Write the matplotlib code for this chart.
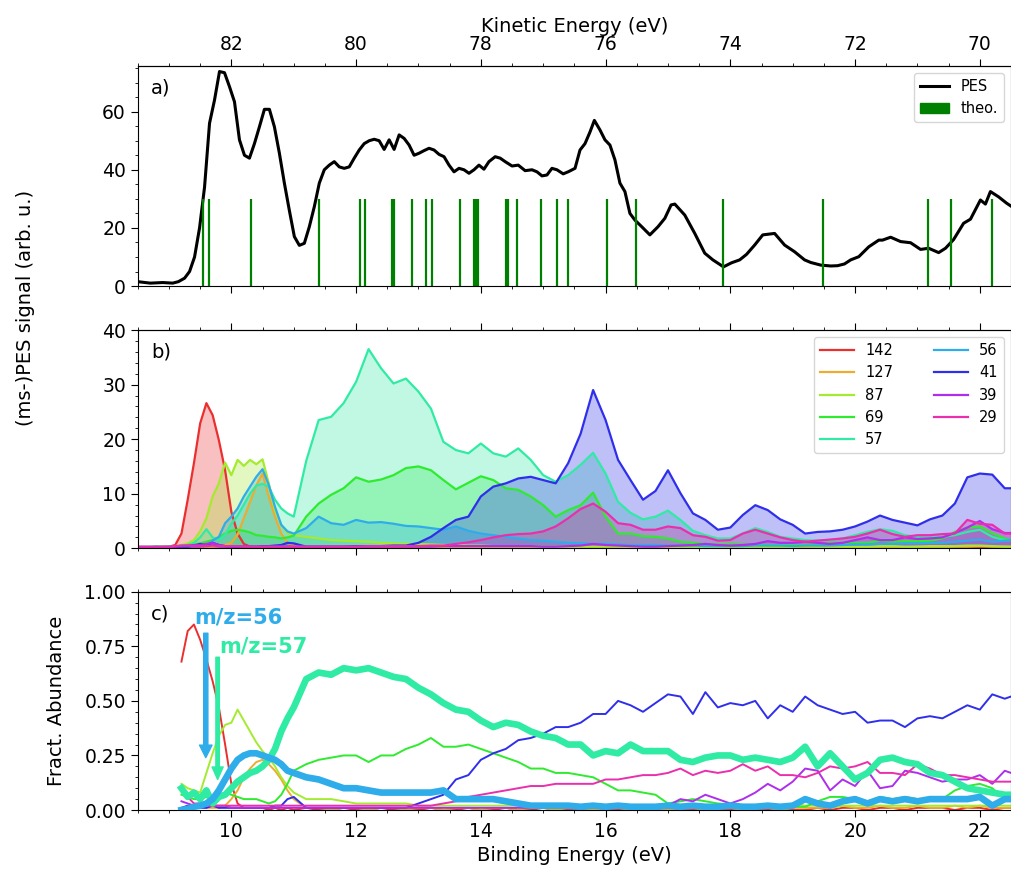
import numpy as np
import matplotlib.pyplot as plt
from matplotlib.ticker import MultipleLocator, FixedLocator
from matplotlib.lines import Line2D
from matplotlib.patches import Patch

hv = 92.0  # photon energy, KE = hv - BE

# ---- panel a: total PES + theoretical lines
pes_be = [8.5, 8.7, 8.9, 9.06, 9.15, 9.25, 9.33, 9.41, 9.49, 9.57,
          9.65, 9.73, 9.81, 9.89, 9.97, 10.05, 10.13, 10.21, 10.29, 10.37,
          10.45, 10.53, 10.61, 10.69, 10.77, 10.85, 10.93, 11.01, 11.09, 11.17,
          11.25, 11.33, 11.41, 11.49, 11.57, 11.65, 11.73, 11.81, 11.89, 11.97,
          12.05, 12.13, 12.21, 12.29, 12.37, 12.45, 12.53, 12.61, 12.69, 12.77,
          12.85, 12.93, 13.01, 13.09, 13.17, 13.25, 13.33, 13.41, 13.49, 13.57,
          13.65, 13.73, 13.81, 13.89, 13.97, 14.05, 14.13, 14.23, 14.31, 14.39,
          14.50, 14.60, 14.71, 14.82, 14.90, 14.98, 15.06, 15.14, 15.22, 15.32,
          15.40, 15.51, 15.59, 15.67, 15.75, 15.82, 15.91, 15.99, 16.07, 16.15,
          16.23, 16.31, 16.39, 16.47, 16.58, 16.71, 16.84, 16.95, 17.05, 17.11,
          17.27, 17.43, 17.59, 17.72, 17.89, 18.02, 18.15, 18.26, 18.39, 18.52,
          18.71, 18.87, 19.03, 19.19, 19.29, 19.45, 19.61, 19.72, 19.83, 19.93,
          20.06, 20.22, 20.38, 20.44, 20.57, 20.73, 20.89, 21.05, 21.18, 21.34,
          21.45, 21.58, 21.74, 21.85, 22.01, 22.09, 22.17, 22.30, 22.43, 22.5]
pes_signal = [1.5, 1.0, 1.2, 1.0, 1.5, 2.7, 5.0, 10.0, 20.0, 34.0,
              56.0, 64.0, 73.8, 73.4, 68.6, 63.4, 50.3, 45.0, 44.0, 49.0,
              54.8, 60.8, 60.8, 54.8, 45.7, 35.4, 26.0, 17.0, 14.0, 14.7,
              20.4, 27.3, 35.4, 40.0, 41.6, 42.8, 41.0, 40.5, 41.0, 44.0,
              46.8, 49.0, 50.0, 50.5, 50.0, 47.0, 50.3, 47.0, 52.0, 50.8,
              48.5, 45.0, 45.7, 46.6, 47.4, 46.8, 45.3, 44.5, 41.6, 39.3,
              40.5, 40.0, 38.8, 40.0, 41.6, 40.2, 42.8, 44.5, 44.0, 42.8,
              41.3, 41.6, 39.7, 40.0, 39.3, 37.9, 38.2, 40.5, 40.0, 38.6,
              39.3, 40.5, 46.8, 49.0, 53.0, 57.0, 53.7, 50.3, 48.5, 43.4,
              35.4, 32.5, 25.0, 22.7, 20.4, 17.6, 20.4, 23.3, 27.9, 28.2,
              24.4, 18.1, 11.3, 9.0, 6.6, 8.0, 9.0, 10.9, 14.1, 17.6,
              18.1, 14.1, 11.8, 9.0, 8.1, 7.2, 6.9, 7.0, 7.6, 9.0,
              10.1, 13.5, 15.8, 15.8, 16.8, 15.3, 14.9, 12.6, 13.0, 11.5,
              13.0, 16.0, 21.6, 23.0, 29.6, 28.2, 32.5, 30.7, 28.5, 27.5]
theo_be = [9.54, 9.64, 10.31, 11.41, 12.07, 12.14, 12.57, 12.61, 12.89, 13.12,
           13.21, 13.67, 13.89, 13.92, 13.95, 14.40, 14.43, 14.58, 14.97, 15.22,
           15.40, 16.03, 16.49, 17.88, 19.49, 21.17, 21.54, 22.19]
theo_height = 30

# ---- panels b, c: mass-selected PES on a common energy grid
be = np.round(np.r_[np.arange(8.5, 10.95, 0.1), np.arange(11.0, 22.45, 0.2), 22.5], 2)
be_c = be[7:]  # fractional abundance starts at 9.2 eV

masses = ['142', '127', '87', '69', '57', '56', '41', '39', '29']
colors = ['#eb2f2f', '#ebac2f', '#a4eb2f', '#2feb2f', '#2feba4',
          '#2facea', '#2f2feb', '#ad2feb', '#eb2fac']

b142 = [0.2, 0.2, 0.2, 0.2, 0.3, 0.3, 0.6, 2.7, 8.9, 15.6, 22.9, 26.6, 24.4, 19.8, 14.3, 6.7, 2.7, 0.8, 0.3, 0.2, 0.2, 0.2, 0.2, 0.2, 0.2,
        0.2, 0.1, 0.2, 0.1, 0.1, 0.2, 0.1, 0.1, 0.2, 0.1, 0.1, 0.1, 0.2, 0.1, 0.1, 0.2, 0.1, 0.1, 0.1, 0.2, 0.1, 0.1, 0.1, 0.2, 0.1, 0.1, 0.1, 0.1, 0.1,
        0.1, 0.1, 0.1, 0.1, 0.1, 0.1, 0.1, 0.1, 0.1, 0.1, 0.1, 0.1, 0.1, 0.1, 0.1, 0.1, 0.2, 0.1, 0.1, 0.2, 0.1, 0.2, 0.2, 0.1, 0.2, 0.2, 0.3, 0.2, 0.2, 0.2]
b127 = [0.1, 0.1, 0.1, 0.1, 0.1, 0.2, 0.2, 0.3, 0.4, 0.6, 0.4, 0.3, 0.3, 0.4, 0.6, 1.0, 2.5, 5.5, 8.5, 11.5, 13.7, 9.5, 5.8, 2.7, 1.0,
        0.5, 0.2, 0.2, 0.1, 0.2, 0.1, 0.1, 0.2, 0.1, 0.1, 0.1, 0.2, 0.1, 0.1, 0.1, 0.1, 0.2, 0.1, 0.1, 0.1, 0.1, 0.1, 0.2, 0.1, 0.1, 0.1, 0.1, 0.1, 0.1,
        0.1, 0.1, 0.1, 0.1, 0.1, 0.1, 0.1, 0.1, 0.1, 0.1, 0.1, 0.1, 0.1, 0.1, 0.1, 0.2, 0.2, 0.2, 0.2, 0.2, 0.2, 0.3, 0.2, 0.2, 0.3, 0.3, 0.4, 0.3, 0.3, 0.3]
b87 = [0.2, 0.2, 0.2, 0.2, 0.3, 0.3, 0.4, 0.6, 0.9, 1.5, 3.1, 5.5, 9.5, 11.9, 15.7, 13.4, 16.2, 15.1, 16.2, 15.4, 16.3, 11.9, 7.0, 4.3, 2.7,
       2.4, 2.1, 1.8, 1.5, 1.4, 1.3, 1.2, 1.0, 0.9, 0.8, 0.8, 0.7, 0.6, 0.6, 0.5, 0.5, 0.4, 0.4, 0.4, 0.4, 0.3, 0.3, 0.3, 0.3, 0.3, 0.3, 0.3, 0.3, 0.3,
       0.3, 0.3, 0.2, 0.2, 0.2, 0.2, 0.2, 0.2, 0.3, 0.3, 0.3, 0.3, 0.4, 0.3, 0.3, 0.3, 0.3, 0.3, 0.4, 0.4, 0.3, 0.3, 0.4, 0.4, 0.4, 0.5, 0.5, 0.4, 0.3, 0.3]
b69 = [0.2, 0.2, 0.2, 0.2, 0.2, 0.3, 0.3, 0.5, 0.6, 0.7, 0.9, 1.2, 1.5, 2.0, 2.7, 3.2, 3.4, 3.2, 2.9, 2.4, 2.3, 2.1, 2.0, 1.8, 2.0,
       2.3, 5.8, 8.2, 9.8, 11.0, 13.0, 12.2, 12.6, 13.4, 14.7, 15.0, 14.3, 12.5, 10.8, 12.0, 13.2, 12.5, 11.0, 10.7, 9.5, 7.9, 5.8, 7.0, 7.9, 10.2, 5.8, 2.7, 2.7, 2.2,
       2.1, 1.8, 1.2, 1.0, 0.8, 0.7, 0.8, 0.7, 0.7, 0.6, 0.6, 0.6, 0.6, 0.8, 1.0, 1.0, 1.0, 1.0, 1.4, 1.2, 1.3, 1.3, 1.4, 1.8, 3.0, 3.8, 4.0, 2.8, 1.8, 1.5]
b57 = [0.3, 0.3, 0.3, 0.4, 0.3, 0.3, 0.3, 0.5, 0.6, 1.0, 2.0, 3.5, 2.0, 1.5, 2.5, 4.5, 6.0, 8.0, 10.0, 11.5, 11.8, 11.3, 8.9, 7.3, 6.4,
       5.8, 16.0, 23.5, 24.1, 26.6, 30.5, 36.5, 33.0, 30.2, 31.1, 28.7, 25.6, 19.5, 18.0, 17.4, 19.2, 17.4, 16.8, 18.3, 16.2, 13.4, 12.2, 13.4, 15.3, 17.5, 13.7, 8.5, 6.5, 5.3,
       5.8, 6.9, 5.2, 3.2, 2.4, 1.8, 1.8, 2.7, 3.7, 3.0, 2.1, 1.8, 1.5, 1.4, 1.5, 1.8, 2.4, 3.0, 3.5, 3.2, 2.4, 2.1, 2.3, 2.1, 2.4, 3.0, 3.4, 2.1, 1.5, 1.5]
b56 = [0.2, 0.2, 0.2, 0.2, 0.2, 0.3, 0.3, 0.3, 0.4, 0.4, 0.5, 0.5, 1.4, 2.1, 4.6, 5.8, 7.3, 9.5, 11.3, 13.1, 14.5, 11.6, 7.6, 4.3, 3.1,
       2.7, 3.7, 5.8, 4.6, 4.3, 5.2, 4.7, 4.8, 4.5, 4.1, 4.0, 3.7, 3.4, 4.0, 3.2, 2.7, 2.4, 2.1, 1.8, 1.5, 1.4, 1.2, 1.0, 0.9, 0.8, 0.8, 0.7, 0.6, 0.6,
       0.6, 0.5, 0.5, 0.5, 0.4, 0.4, 0.4, 0.4, 0.5, 0.5, 0.5, 0.4, 0.5, 0.5, 0.5, 0.6, 0.7, 0.7, 0.8, 0.8, 0.9, 0.9, 1.0, 1.0, 1.2, 1.4, 1.6, 1.2, 1.4, 1.5]
b41 = [0.1, 0.1, 0.1, 0.1, 0.1, 0.2, 0.2, 0.3, 0.3, 0.5, 0.8, 0.6, 1.0, 0.6, 0.4, 0.3, 0.3, 0.3, 0.3, 0.3, 0.4, 0.4, 0.5, 0.6, 1.0,
       0.9, 0.3, 0.3, 0.3, 0.3, 0.4, 0.4, 0.4, 0.5, 0.5, 1.0, 2.1, 3.7, 5.2, 5.8, 9.5, 11.3, 11.9, 12.8, 13.1, 12.5, 11.9, 15.6, 21.0, 29.0, 23.5, 16.2, 12.5, 8.9,
       10.5, 14.3, 10.1, 6.4, 5.2, 3.4, 3.8, 6.1, 7.9, 7.0, 5.3, 4.3, 2.7, 3.0, 3.1, 3.4, 4.0, 4.9, 6.0, 5.2, 4.7, 4.2, 5.3, 6.0, 8.2, 13.0, 13.7, 13.5, 11.0, 11.0]
b39 = [0.2, 0.2, 0.2, 0.2, 0.2, 0.2, 0.3, 0.4, 0.5, 0.6, 0.6, 0.8, 1.0, 0.6, 0.4, 0.3, 0.3, 0.3, 0.3, 0.3, 0.3, 0.3, 0.3, 0.3, 0.3,
       0.3, 0.3, 0.3, 0.3, 0.3, 0.3, 0.3, 0.3, 0.3, 0.3, 0.3, 0.3, 0.4, 0.4, 0.4, 0.4, 0.4, 0.4, 0.4, 0.4, 0.3, 0.3, 0.4, 0.5, 0.8, 0.6, 0.5, 0.4, 0.3,
       0.3, 0.4, 0.5, 0.6, 0.8, 0.6, 0.5, 0.6, 0.8, 1.3, 1.0, 1.0, 1.2, 1.0, 0.8, 1.0, 1.5, 2.0, 1.5, 1.5, 2.0, 1.7, 1.8, 2.0, 2.8, 3.8, 5.0, 3.5, 2.8, 2.8]
b29 = [0.3, 0.3, 0.3, 0.3, 0.3, 0.3, 0.4, 0.5, 0.5, 0.4, 0.4, 0.4, 0.5, 0.4, 0.4, 0.4, 0.4, 0.3, 0.3, 0.3, 0.3, 0.3, 0.3, 0.3, 0.3,
       0.3, 0.3, 0.3, 0.3, 0.3, 0.3, 0.4, 0.4, 0.4, 0.4, 0.4, 0.5, 0.5, 0.8, 1.1, 1.5, 2.0, 2.4, 2.6, 2.7, 3.1, 4.0, 5.5, 7.2, 8.2, 6.7, 4.6, 4.3, 3.4,
       3.4, 4.0, 3.7, 2.4, 2.1, 1.4, 1.5, 2.7, 3.4, 2.7, 2.0, 1.5, 1.2, 1.4, 1.6, 1.8, 2.1, 2.7, 3.4, 2.6, 2.1, 2.4, 2.4, 2.6, 2.7, 5.2, 4.5, 4.3, 2.7, 2.7]

c142 = [0.68, 0.82, 0.85, 0.78, 0.69, 0.59, 0.47, 0.30, 0.12, 0.03, 0.01, 0.01, 0.01, 0.01, 0.00, 0.01, 0.00, 0.01,
        0.00, 0.01, 0.00, 0.00, 0.01, 0.00, 0.00, 0.01, 0.00, 0.00, 0.00, 0.01, 0.00, 0.00, 0.01, 0.00, 0.00, 0.01, 0.00, 0.00, 0.01, 0.00, 0.00, 0.00, 0.01, 0.00, 0.00, 0.01, 0.00,
        0.00, 0.01, 0.00, 0.00, 0.01, 0.00, 0.00, 0.01, 0.00, 0.00, 0.01, 0.00, 0.00, 0.01, 0.00, 0.01, 0.01, 0.00, 0.01, 0.01, 0.00, 0.01, 0.01, 0.01, 0.00, 0.01, 0.01, 0.00, 0.01, 0.01]
c127 = [0.01, 0.01, 0.01, 0.02, 0.01, 0.01, 0.01, 0.02, 0.05, 0.09, 0.15, 0.19, 0.22, 0.23, 0.21, 0.18, 0.14, 0.09,
        0.05, 0.01, 0.01, 0.00, 0.01, 0.01, 0.00, 0.01, 0.01, 0.00, 0.01, 0.01, 0.00, 0.01, 0.01, 0.00, 0.01, 0.01, 0.00, 0.01, 0.01, 0.00, 0.01, 0.01, 0.00, 0.01, 0.01, 0.00, 0.01,
        0.01, 0.00, 0.01, 0.01, 0.00, 0.01, 0.01, 0.00, 0.01, 0.01, 0.00, 0.01, 0.01, 0.01, 0.01, 0.02, 0.01, 0.01, 0.02, 0.01, 0.01, 0.02, 0.01, 0.01, 0.02, 0.01, 0.02, 0.01, 0.01, 0.01]
c87 = [0.12, 0.10, 0.09, 0.08, 0.17, 0.26, 0.34, 0.39, 0.40, 0.46, 0.41, 0.36, 0.31, 0.27, 0.24, 0.20, 0.15, 0.11,
       0.08, 0.05, 0.05, 0.05, 0.04, 0.03, 0.03, 0.03, 0.03, 0.03, 0.02, 0.02, 0.02, 0.02, 0.02, 0.02, 0.02, 0.02, 0.02, 0.02, 0.02, 0.02, 0.02, 0.02, 0.02, 0.02, 0.02, 0.02, 0.02,
       0.02, 0.02, 0.01, 0.01, 0.01, 0.01, 0.01, 0.01, 0.01, 0.01, 0.02, 0.03, 0.02, 0.02, 0.01, 0.02, 0.02, 0.02, 0.02, 0.02, 0.02, 0.02, 0.02, 0.02, 0.02, 0.02, 0.02, 0.02, 0.02, 0.02]
c69 = [0.07, 0.06, 0.05, 0.05, 0.06, 0.06, 0.07, 0.08, 0.07, 0.06, 0.05, 0.05, 0.05, 0.04, 0.03, 0.04, 0.07, 0.12,
       0.18, 0.21, 0.23, 0.24, 0.25, 0.25, 0.22, 0.25, 0.25, 0.28, 0.30, 0.33, 0.29, 0.29, 0.30, 0.28, 0.26, 0.24, 0.22, 0.19, 0.19, 0.17, 0.17, 0.16, 0.15, 0.12, 0.09, 0.09, 0.08,
       0.07, 0.03, 0.04, 0.05, 0.04, 0.03, 0.025, 0.02, 0.02, 0.02, 0.02, 0.015, 0.015, 0.04, 0.06, 0.06, 0.05, 0.04, 0.06, 0.05, 0.06, 0.05, 0.05, 0.05, 0.09, 0.11, 0.12, 0.10, 0.05, 0.04]
c57 = [0.10, 0.06, 0.08, 0.05, 0.09, 0.03, 0.06, 0.07, 0.10, 0.13, 0.15, 0.17, 0.18, 0.20, 0.23, 0.28, 0.36, 0.42,
       0.47, 0.60, 0.63, 0.62, 0.65, 0.64, 0.65, 0.63, 0.61, 0.60, 0.56, 0.53, 0.49, 0.46, 0.45, 0.41, 0.38, 0.40, 0.39, 0.36, 0.34, 0.33, 0.30, 0.30, 0.25, 0.27, 0.26, 0.30, 0.27,
       0.27, 0.27, 0.23, 0.22, 0.24, 0.25, 0.25, 0.23, 0.24, 0.23, 0.22, 0.24, 0.29, 0.20, 0.26, 0.20, 0.14, 0.17, 0.23, 0.24, 0.22, 0.21, 0.17, 0.16, 0.13, 0.10, 0.09, 0.08, 0.07, 0.07]
c56 = [0.00, 0.005, 0.015, 0.02, 0.03, 0.05, 0.09, 0.14, 0.19, 0.23, 0.25, 0.26, 0.26, 0.25, 0.24, 0.23, 0.21, 0.18,
       0.17, 0.15, 0.14, 0.12, 0.10, 0.10, 0.09, 0.08, 0.08, 0.08, 0.08, 0.08, 0.09, 0.05, 0.05, 0.05, 0.05, 0.04, 0.03, 0.02, 0.02, 0.02, 0.02, 0.015, 0.02, 0.015, 0.02, 0.015, 0.015,
       0.015, 0.02, 0.015, 0.02, 0.015, 0.015, 0.02, 0.015, 0.015, 0.02, 0.015, 0.02, 0.05, 0.03, 0.02, 0.04, 0.05, 0.03, 0.05, 0.04, 0.05, 0.04, 0.05, 0.05, 0.05, 0.05, 0.06, 0.02, 0.05, 0.05]
c41 = [0.01, 0.02, 0.01, 0.01, 0.01, 0.02, 0.01, 0.01, 0.01, 0.01, 0.01, 0.01, 0.01, 0.01, 0.01, 0.02, 0.02, 0.05,
       0.06, 0.01, 0.01, 0.01, 0.01, 0.01, 0.01, 0.01, 0.01, 0.01, 0.03, 0.05, 0.07, 0.14, 0.16, 0.23, 0.26, 0.28, 0.32, 0.33, 0.35, 0.38, 0.38, 0.40, 0.44, 0.44, 0.50, 0.48, 0.45,
       0.49, 0.53, 0.52, 0.44, 0.54, 0.47, 0.49, 0.48, 0.50, 0.42, 0.48, 0.45, 0.52, 0.48, 0.46, 0.44, 0.45, 0.40, 0.41, 0.41, 0.38, 0.42, 0.43, 0.42, 0.45, 0.48, 0.46, 0.53, 0.51, 0.52]
c39 = [0.04, 0.03, 0.02, 0.02, 0.02, 0.02, 0.02, 0.02, 0.01, 0.01, 0.01, 0.01, 0.01, 0.01, 0.01, 0.01, 0.01, 0.01,
       0.01, 0.01, 0.01, 0.01, 0.01, 0.01, 0.01, 0.01, 0.01, 0.01, 0.01, 0.01, 0.01, 0.01, 0.01, 0.01, 0.01, 0.01, 0.01, 0.01, 0.01, 0.01, 0.01, 0.01, 0.02, 0.02, 0.01, 0.01, 0.01,
       0.01, 0.02, 0.05, 0.04, 0.07, 0.05, 0.03, 0.05, 0.08, 0.12, 0.09, 0.13, 0.19, 0.18, 0.09, 0.14, 0.11, 0.18, 0.10, 0.11, 0.18, 0.17, 0.15, 0.13, 0.14, 0.14, 0.16, 0.12, 0.18, 0.17]
c29 = [0.09, 0.06, 0.03, 0.03, 0.02, 0.02, 0.02, 0.02, 0.02, 0.02, 0.02, 0.02, 0.02, 0.02, 0.02, 0.02, 0.02, 0.02,
       0.02, 0.02, 0.02, 0.02, 0.02, 0.02, 0.02, 0.02, 0.02, 0.02, 0.02, 0.02, 0.03, 0.04, 0.06, 0.07, 0.08, 0.09, 0.10, 0.11, 0.11, 0.12, 0.12, 0.12, 0.12, 0.14, 0.14, 0.15, 0.16,
       0.16, 0.17, 0.19, 0.16, 0.18, 0.17, 0.18, 0.21, 0.18, 0.20, 0.16, 0.16, 0.15, 0.17, 0.20, 0.19, 0.20, 0.22, 0.17, 0.17, 0.16, 0.21, 0.19, 0.16, 0.16, 0.15, 0.14, 0.13, 0.13, 0.13]

ms_pes = [b142, b127, b87, b69, b57, b56, b41, b39, b29]
fract = [c142, c127, c87, c69, c57, c56, c41, c39, c29]

ke_ticks = [70, 72, 74, 76, 78, 80, 82]


def be2ke(x):
    return hv - x


fig = plt.figure(figsize=(10.11, 8.71), dpi=100)
left, width = 0.1363, 0.8637
ax_a = fig.add_axes([left, 0.6716, width, 0.2526])
ax_b = fig.add_axes([left, 0.3705, width, 0.2506])
ax_c = fig.add_axes([left, 0.0700, width, 0.2506])

# a)
ax_a.plot(pes_be, pes_signal, color='black', lw=2.2)
ax_a.vlines(theo_be, 0, theo_height, color='green', lw=1.6)
ax_a.set_ylim(0, 75.7)
ax_a.yaxis.set_major_locator(MultipleLocator(20))
ax_a.yaxis.set_minor_locator(MultipleLocator(5))
ax_a.legend(handles=[Line2D([], [], color='black', lw=2.2, label='PES'),
                     Patch(color='green', label='theo.')],
            loc='upper right', fontsize=10.5)

# b)
for lab, col, y in zip(masses, colors, ms_pes):
    ax_b.plot(be, y, color=col, lw=1.6, label=lab)
    ax_b.fill_between(be, 0, y, color=col, alpha=0.3, lw=0)
ax_b.set_ylim(0, 40)
ax_b.yaxis.set_major_locator(MultipleLocator(10))
ax_b.yaxis.set_minor_locator(MultipleLocator(2))
ax_b.legend(ncol=2, loc='upper right', fontsize=10.5, columnspacing=2.8,
            handlelength=2.3)

# c)
for lab, col, y in zip(masses, colors, fract):
    thick = lab in ('57', '56')
    ax_c.plot(be_c, y, color=col, lw=4.8 if thick else 1.4,
              zorder=4 if thick else 2)
ax_c.set_ylim(0, 1.0)
ax_c.yaxis.set_major_locator(MultipleLocator(0.25))
ax_c.yaxis.set_minor_locator(MultipleLocator(0.05))
ax_c.set_xlabel('Binding Energy (eV)', fontsize=14)
ax_c.set_ylabel('Fract. Abundance', fontsize=14)
ax_c.yaxis.set_label_coords(-0.082, 0.5)

ax_c.text(9.40, 0.88, 'm/z=56', color=colors[5], fontsize=15,
          fontweight='bold', va='center')
ax_c.text(9.81, 0.75, 'm/z=57', color=colors[4], fontsize=15,
          fontweight='bold', va='center')
ax_c.annotate('', xy=(9.59, 0.24), xytext=(9.59, 0.81),
              arrowprops=dict(color=colors[5], width=3, headwidth=9,
                              headlength=9, shrink=0))
ax_c.annotate('', xy=(9.78, 0.14), xytext=(9.78, 0.70),
              arrowprops=dict(color=colors[4], width=2.5, headwidth=8,
                              headlength=9, shrink=0))

for ax, tag in zip([ax_a, ax_b, ax_c], ['a)', 'b)', 'c)']):
    ax.set_xlim(8.5, 22.5)
    ax.xaxis.set_major_locator(MultipleLocator(2))
    ax.xaxis.set_minor_locator(MultipleLocator(0.5))
    ax.tick_params(which='major', labelsize=13.5, length=5)
    ax.tick_params(which='minor', length=2.5)
    ax.text(0.015, 0.9, tag, transform=ax.transAxes, fontsize=14,
            va='center')
    sec = ax.secondary_xaxis('top', functions=(be2ke, be2ke))
    sec.xaxis.set_major_locator(FixedLocator(ke_ticks))
    sec.xaxis.set_minor_locator(MultipleLocator(0.5))
    sec.tick_params(which='major', labelsize=13.5, length=5)
    sec.tick_params(which='minor', length=2.5)
    if ax is ax_a:
        sec.set_xlabel('Kinetic Energy (eV)', fontsize=14, labelpad=2)
    else:
        sec.tick_params(labeltop=False)

ax_a.tick_params(labelbottom=False)
ax_b.tick_params(labelbottom=False)

fig.text(0.025, 0.646, '(ms-)PES signal (arb. u.)', rotation=90,
         fontsize=14, ha='center', va='center')

fig.savefig('out.png', dpi=100)
